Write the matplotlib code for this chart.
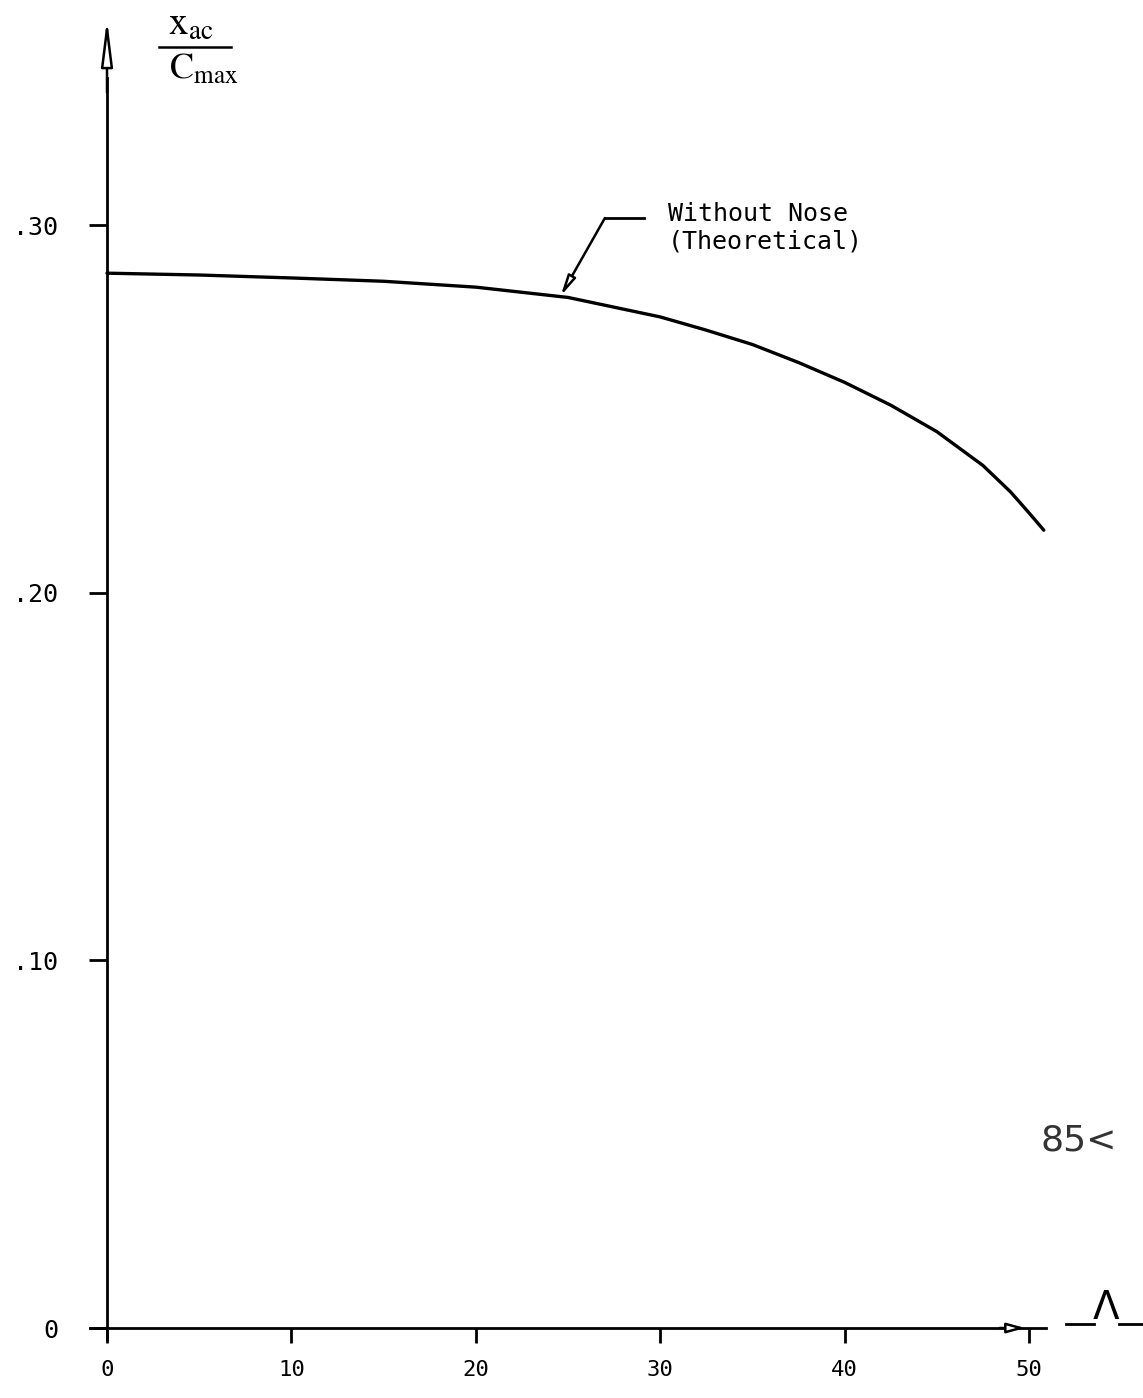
import matplotlib.pyplot as plt
import numpy as np

# Sweep angle (deg) and aerodynamic centre position
sweep = [0, 5, 10, 15, 20, 25, 30, 32.5, 35, 37.5, 40, 42.5, 45,
         47.5, 49, 50, 50.8]
xac_cmax = [0.2869, 0.2864, 0.2856, 0.2847, 0.2831, 0.2803, 0.2750,
            0.2714, 0.2675, 0.2626, 0.2572, 0.2510, 0.2438, 0.2346,
            0.2274, 0.2217, 0.2170]

x_ticks = [0, 10, 20, 30, 40, 50]
x_tick_labels = ["0", "10", "20", "30", "40", "50"]
y_ticks = [0.0, 0.10, 0.20, 0.30]
y_tick_labels = ["0", ".10", ".20", ".30"]

mono = "DejaVu Sans Mono"

fig = plt.figure(figsize=(11.43, 13.98), dpi=100)
ax = fig.add_axes([90 / 1143, 53 / 1398, 1053 / 1143, 1345 / 1398])
ax.set_xlim(-0.922, 56.18)
ax.set_ylim(-0.00462, 0.3612)

# curve
ax.plot(sweep, xac_cmax, color="black", lw=2.4, solid_capstyle="round")

# axes drawn like the hand drawing
for s in ["top", "right"]:
    ax.spines[s].set_visible(False)
ax.spines["left"].set_position(("data", 0))
ax.spines["bottom"].set_position(("data", 0))
ax.spines["left"].set_bounds(-0.003, 0.34)
ax.spines["bottom"].set_bounds(-0.9, 50.9)
ax.spines["left"].set_linewidth(2)
ax.spines["bottom"].set_linewidth(2)

ax.annotate("", xy=(0, 0.3560), xytext=(0, 0.336),
            arrowprops=dict(arrowstyle="-|>,head_length=2.8,head_width=0.35",
                            fc="white", ec="black", lw=1.8,
                            shrinkA=0, shrinkB=0))
ax.annotate("", xy=(49.8, 0), xytext=(48.4, 0),
            arrowprops=dict(arrowstyle="-|>,head_length=1.1,head_width=0.3",
                            fc="white", ec="black", lw=1.8,
                            shrinkA=0, shrinkB=0))

# Lambda symbol after the axis
ax.plot([52.0, 53.5], [0.0012, 0.0012], color="black", lw=2)
ax.plot([54.9, 56.2], [0.0012, 0.0012], color="black", lw=2)
ax.text(54.2, 0.0002, "Λ", fontsize=28, ha="center", va="bottom",
        fontfamily="DejaVu Sans")

ax.set_xticks(x_ticks, x_tick_labels, fontfamily=mono, fontsize=16)
ax.set_yticks(y_ticks, y_tick_labels, fontfamily=mono, fontsize=18)
ax.tick_params(axis="x", direction="out", length=11, width=2, pad=12)
ax.tick_params(axis="y", direction="out", length=13, width=2, pad=22)

# y axis label as a fraction
ax.text(4.55, 0.3497, r"$\mathrm{x_{ac}}$", fontsize=28, ha="center",
        va="bottom", math_fontfamily="stix")
ax.plot([2.8, 6.7], [0.3484, 0.3484], color="black", lw=1.8)
ax.text(5.26, 0.3470, r"$\mathrm{C_{max}}$", fontsize=26, ha="center",
        va="top", math_fontfamily="stix")

# leader to the curve
ax.annotate("", xy=(24.6, 0.2807), xytext=(27.0, 0.3019),
            arrowprops=dict(arrowstyle="-|>,head_length=1.2,head_width=0.25",
                            fc="white", ec="black", lw=1.8,
                            shrinkA=0, shrinkB=0))
ax.plot([27.0, 29.1], [0.3019, 0.3019], color="black", lw=2)
ax.text(30.4, 0.2992, "Without Nose\n(Theoretical)", fontsize=18,
        fontfamily=mono, ha="left", va="center", linespacing=1.2)

# page mark in the scan
ax.text(50.6, 0.0511, "85<", fontsize=26, fontfamily="DejaVu Sans",
        ha="left", va="center", color="#333333")

fig.savefig("out.png", dpi=100)
